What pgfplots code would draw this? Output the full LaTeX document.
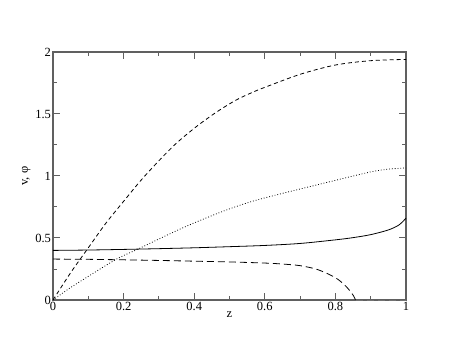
\documentclass[border=0pt]{standalone}
\usepackage{pgfplots}
\pgfplotsset{compat=1.18}
\usepackage{fontspec}
\setmainfont{Liberation Serif}
\begin{document}
\begin{tikzpicture}
\begin{axis}[
    at={(0,0)}, anchor=south west,
    scale only axis,
    width=353pt, height=248pt,
    xmin=0, xmax=1, ymin=0, ymax=2,
    xtick={0,0.2,...,1}, ytick={0,0.5,...,2},
    minor xtick={0.1,0.3,...,0.9}, minor ytick={0.25,0.75,...,1.75},
    xticklabels={0,0.2,0.4,0.6,0.8,1},
    yticklabels={0,0.5,1,1.5,2},
    /pgf/number format/assume math mode=true,
    tick align=inside,
    major tick length=7pt, minor tick length=4pt,
    axis line style={gray!75!black, line width=1.2pt},
    every tick/.style={gray!75!black, line width=1pt},
    tick label style={font=\fontsize{12.5}{14}\selectfont},
    xticklabel style={yshift=1pt},
    yticklabel style={xshift=1.5pt},
    yticklabel style={/pgfplots/yticklabel shift=0pt},
    xlabel={z}, ylabel={v, φ},
    label style={font=\fontsize{12.5}{14}\selectfont},
    xlabel style={yshift=6pt},
    ylabel style={yshift=-2pt},
]
% solid
\addplot[black, line width=0.8pt, smooth] coordinates {
    (0,0.400)(0.1,0.403)(0.2,0.408)(0.3,0.414)(0.4,0.421)(0.5,0.430)
    (0.6,0.440)(0.7,0.456)(0.8,0.485)(0.85,0.503)(0.9,0.527)(0.95,0.565)
    (0.98,0.605)(1.0,0.66)};
% lower dashed
\addplot[black, line width=0.8pt, dash pattern=on 7pt off 4pt, smooth] coordinates {
    (0,0.330)(0.1,0.328)(0.2,0.324)(0.3,0.319)(0.4,0.313)(0.5,0.307)
    (0.6,0.298)(0.65,0.290)(0.7,0.277)(0.75,0.245)(0.8,0.180)(0.83,0.110)
    (0.85,0.040)(0.857,0)};
\addplot[black!55, line width=0.8pt, dash pattern=on 7pt off 4pt] coordinates {
    (0.857,0)(1,0)};
% upper dashed
\addplot[black, line width=0.8pt, dash pattern=on 4pt off 3pt, smooth] coordinates {
    (0,0)(0.05,0.22)(0.099,0.417)(0.15,0.62)(0.203,0.806)(0.25,0.968)(0.302,1.129)
    (0.349,1.263)(0.406,1.398)(0.463,1.515)(0.519,1.613)(0.567,1.677)
    (0.6,1.715)(0.7,1.82)(0.8,1.895)(0.9,1.93)(1.0,1.94)};
% dotted
\addplot[black, line width=0.8pt, dotted, smooth] coordinates {
    (0,0)(0.047,0.095)(0.094,0.18)(0.179,0.328)(0.241,0.411)(0.3,0.492)
    (0.378,0.595)(0.45,0.68)(0.5,0.735)(0.567,0.798)(0.65,0.86)(0.7,0.895)
    (0.8,0.965)(0.9,1.033)(0.95,1.055)(1.0,1.065)};
\end{axis}
\path[use as bounding box] (-53pt,-53pt) rectangle (404pt,300pt);
\end{tikzpicture}
\end{document}
